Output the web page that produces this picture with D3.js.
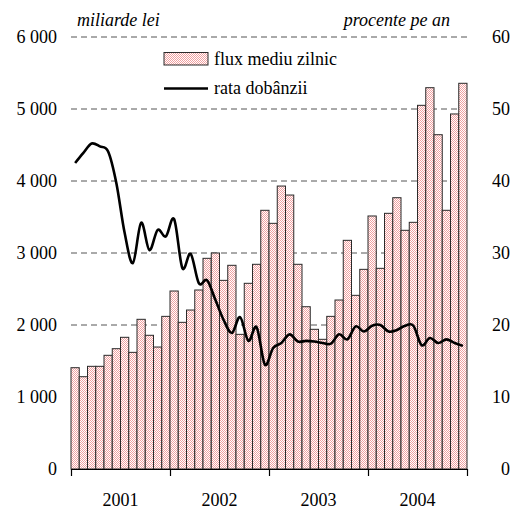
<!DOCTYPE html>
<html lang="ro">
<head>
  <meta charset="UTF-8">
  <title>Flux mediu zilnic si rata dobanzii</title>
  <style>
    body { margin: 0; background: #fff; }
    svg { display: block; }
    svg text { font-family: 'Liberation Serif', 'DejaVu Serif', serif; }
    .grid line { stroke: #555; stroke-dasharray: 6 4; }
    .bar { stroke: #2a2a2a; stroke-width: 1; }
  </style>
</head>
<body>
  <div id="chart"></div>

  <script src="https://d3js.org/d3.v7.min.js"></script>
  <script>
    // monthly data, Jan 2001 - Dec 2004
    const years = [2001, 2002, 2003, 2004];
    const flux = [
      1407, 1282, 1426, 1426, 1579, 1671, 1829, 1620, 2079, 1857, 1694, 2120,
      2472, 2037, 2208, 2486, 2926, 3000, 2620, 2829, 1870, 2579, 2843, 3593,
      3412, 3930, 3805, 2843, 2254, 1940, 1801, 2120, 2347, 3176, 2412, 2773,
      3514, 2787, 3551, 3768, 3315, 3426, 5051, 5296, 4643, 3593, 4931, 5357
    ];
    const rata = [
      42.5, 43.9, 45.2, 44.8, 44.1, 39.7, 32.8, 28.6, 34.2, 30.4, 33.2, 32.3,
      34.7, 27.9, 29.9, 25.8, 26.2, 23.5, 20.7, 18.9, 21.1, 17.8, 19.7, 14.5,
      16.8, 17.5, 18.7, 17.7, 17.8, 17.7, 17.5, 17.4, 18.7, 18.0, 19.8, 19.1,
      19.9, 20.0, 19.1, 19.3, 19.9, 19.9, 17.2, 18.2, 17.5, 18.0, 17.5, 17.1
    ];
    const leftTicks = [0, 1000, 2000, 3000, 4000, 5000, 6000];
    const rightTicks = [0, 10, 20, 30, 40, 50, 60];

    const months = flux.map((d, i) => i);

    const W = 512, H = 509;
    const margin = { top: 37, right: 45, bottom: 40, left: 71 };
    const width = W - margin.left - margin.right;
    const height = H - margin.top - margin.bottom;

    const svg = d3.select('#chart').append('svg')
      .attr('width', W).attr('height', H);

    // pink dotted fill like the original pattern
    const pat = svg.append('defs').append('pattern')
      .attr('id', 'dots').attr('width', 2).attr('height', 2)
      .attr('patternUnits', 'userSpaceOnUse');
    pat.append('rect').attr('width', 2).attr('height', 2).attr('fill', '#ffffff');
    pat.append('rect').attr('width', 1).attr('height', 1).attr('fill', '#f0a0a0');
    pat.append('rect').attr('x', 1).attr('y', 1).attr('width', 1).attr('height', 1).attr('fill', '#f0a0a0');

    const g = svg.append('g')
      .attr('transform', `translate(${margin.left},${margin.top})`);

    const x = d3.scaleBand().domain(months).range([0, width]).padding(0);
    const xYear = d3.scaleLinear().domain([2001, 2005]).range([0, width]);
    const yL = d3.scaleLinear().domain([0, 6000]).range([height, 0]);
    const yR = d3.scaleLinear().domain([0, 60]).range([height, 0]);

    const fmtSp = d => d3.format(',d')(d).replace(',', ' ');

    // gridlines
    g.append('g').attr('class', 'grid')
      .selectAll('line').data(leftTicks.slice(1)).join('line')
      .attr('x1', 0).attr('x2', width)
      .attr('y1', d => yL(d)).attr('y2', d => yL(d));

    // left axis
    const axL = g.append('g')
      .call(d3.axisLeft(yL).tickValues(leftTicks).tickSize(0).tickPadding(14).tickFormat(fmtSp));
    axL.select('.domain').remove();

    // right axis
    const axR = g.append('g')
      .attr('transform', `translate(${width + 43},0)`)
      .call(d3.axisLeft(yR).tickValues(rightTicks).tickSize(0).tickPadding(0));
    axR.select('.domain').remove();

    [axL, axR].forEach(ax => {
      ax.attr('font-family', null).attr('font-size', null);
      ax.selectAll('text').attr('fill', '#000').style('font-size', '18px');
    });

    // bars
    g.selectAll('.bar').data(flux).join('rect')
      .attr('class', 'bar')
      .attr('x', (d, i) => x(i))
      .attr('y', d => yL(d))
      .attr('width', x.bandwidth())
      .attr('height', d => height - yL(d))
      .attr('fill', 'url(#dots)');

    // x axis
    const axX = g.append('g')
      .attr('transform', `translate(0,${height})`)
      .call(d3.axisBottom(xYear).tickValues([2001, 2002, 2003, 2004, 2005]).tickSize(7).tickSizeOuter(0).tickFormat(''));
    axX.selectAll('line, path').attr('stroke', '#000').attr('stroke-width', 1.2);

    g.append('g')
      .attr('transform', `translate(0,${height})`)
      .selectAll('text').data(years).join('text')
      .attr('x', d => xYear(d + 0.5))
      .attr('y', 31)
      .attr('dy', '0.35em')
      .attr('text-anchor', 'middle')
      .style('font-size', '18px')
      .text(d => d);

    // rate line
    const line = d3.line()
      .x((d, i) => x(i) + x.bandwidth() / 2)
      .y(d => yR(d))
      .curve(d3.curveCardinal.tension(0));

    g.append('path').datum(rata)
      .attr('d', line)
      .attr('fill', 'none')
      .attr('stroke', '#000')
      .attr('stroke-width', 2.6);

    // unit titles
    svg.append('text')
      .attr('x', 77).attr('y', 26)
      .style('font-size', '18px').style('font-style', 'italic')
      .text('miliarde lei');
    svg.append('text')
      .attr('x', 450).attr('y', 26)
      .attr('text-anchor', 'end')
      .style('font-size', '18px').style('font-style', 'italic')
      .text('procente pe an');

    // legend
    const lg = svg.append('g');
    lg.append('rect')
      .attr('x', 164).attr('y', 52.5).attr('width', 44).attr('height', 12.5)
      .attr('fill', 'url(#dots)').attr('stroke', '#2a2a2a');
    lg.append('text')
      .attr('x', 214).attr('y', 59).attr('dy', '0.35em')
      .style('font-size', '18px').text('flux mediu zilnic');
    lg.append('line')
      .attr('x1', 164).attr('x2', 208).attr('y1', 88.5).attr('y2', 88.5)
      .attr('stroke', '#000').attr('stroke-width', 2.6);
    lg.append('text')
      .attr('x', 214).attr('y', 88).attr('dy', '0.35em')
      .style('font-size', '18px').text('rata dobânzii');
  </script>
</body>
</html>
